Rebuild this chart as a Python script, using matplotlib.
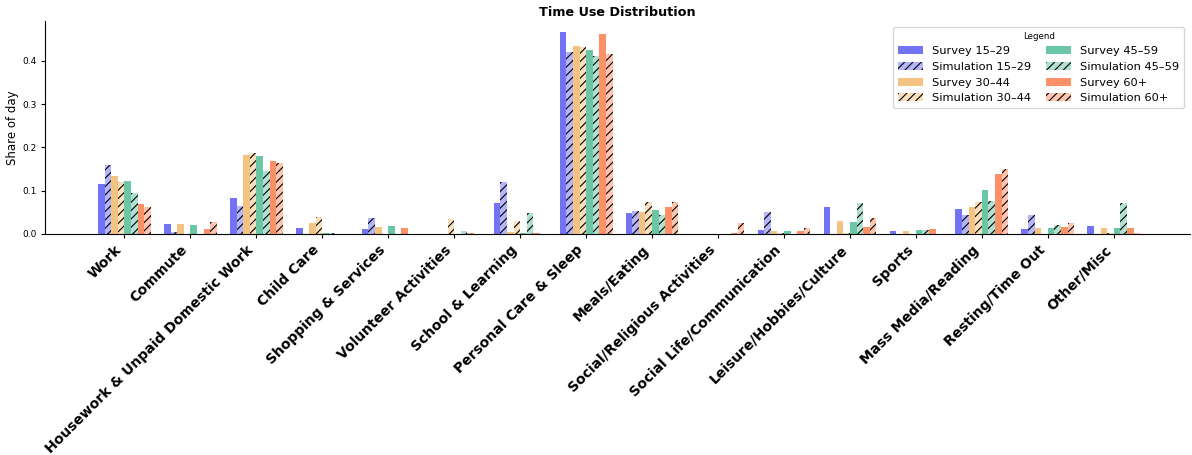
import numpy as np
import matplotlib
matplotlib.use("Agg")
import matplotlib.pyplot as plt

categories = [
    "Work", "Commute", "Housework & Unpaid Domestic Work", "Child Care",
    "Shopping & Services", "Volunteer Activities", "School & Learning",
    "Personal Care & Sleep", "Meals/Eating", "Social/Religious Activities",
    "Social Life/Communication", "Leisure/Hobbies/Culture", "Sports",
    "Mass Media/Reading", "Resting/Time Out", "Other/Misc",
]

survey_15_29 = [0.115, 0.023, 0.082, 0.013, 0.011, 0.0, 0.071, 0.468, 0.049, 0.0,
                0.008, 0.062, 0.007, 0.058, 0.012, 0.019]
sim_15_29 = [0.159, 0.005, 0.065, 0.0, 0.036, 0.0, 0.120, 0.420, 0.052, 0.0,
             0.051, 0.0, 0.0, 0.044, 0.044, 0.0]
survey_30_44 = [0.134, 0.023, 0.182, 0.024, 0.015, 0.0, 0.004, 0.434, 0.051, 0.0,
                0.007, 0.030, 0.007, 0.061, 0.013, 0.014]
sim_30_44 = [0.120, 0.0, 0.188, 0.039, 0.0, 0.034, 0.030, 0.432, 0.074, 0.0,
             0.001, 0.001, 0.0, 0.074, 0.0, 0.003]
survey_45_59 = [0.122, 0.021, 0.179, 0.003, 0.018, 0.0, 0.001, 0.425, 0.055, 0.0,
                0.007, 0.027, 0.009, 0.101, 0.013, 0.013]
sim_45_59 = [0.094, 0.0, 0.146, 0.002, 0.0, 0.007, 0.048, 0.411, 0.044, 0.0,
             0.0, 0.071, 0.009, 0.075, 0.020, 0.071]
survey_60 = [0.068, 0.012, 0.169, 0.0, 0.013, 0.001, 0.002, 0.462, 0.062, 0.001,
             0.007, 0.017, 0.012, 0.139, 0.015, 0.013]
sim_60 = [0.062, 0.027, 0.164, 0.0, 0.0, 0.0, 0.0, 0.416, 0.074, 0.025,
          0.014, 0.037, 0.0, 0.151, 0.025, 0.003]

age_groups = ["15\u201329", "30\u201344", "45\u201359", "60+"]
colors = ["#6b6bf5", "#f5c07a", "#62c3a0", "#fc8a5e"]
survey = [survey_15_29, survey_30_44, survey_45_59, survey_60]
sim = [sim_15_29, sim_30_44, sim_45_59, sim_60]

plt.rcParams["hatch.color"] = "black"
plt.rcParams["hatch.linewidth"] = 0.8

fig, ax = plt.subplots(figsize=(11.92, 4.55), dpi=100)
x = np.arange(len(categories))
w = 0.1

for i, age in enumerate(age_groups):
    off_s = (2 * i - 3.5) * w
    off_m = (2 * i + 1 - 3.5) * w
    ax.bar(x + off_s, survey[i], w, color=colors[i], alpha=0.95,
           label=f"Survey {age}")
    ax.bar(x + off_m, sim[i], w, facecolor=matplotlib.colors.to_rgba(colors[i], 0.5),
           edgecolor="black", linewidth=0, hatch="////", label=f"Simulation {age}")

ax.set_xticks(x)
ax.set_xticklabels(categories, rotation=45, ha="right", fontsize=10, fontweight="bold")
ax.set_xlim(-1.2, len(categories) - 1 + 1.15)
ax.set_ylabel("Share of day", fontsize=8.5, labelpad=2)
ax.tick_params(axis="y", labelsize=6.5, length=3)
ax.tick_params(axis="x", length=3)
ax.set_title("Time Use Distribution", fontsize=9.2, fontweight="bold", pad=4)
ax.spines["top"].set_visible(False)
ax.spines["right"].set_visible(False)
ax.legend(title="Legend", ncol=2, loc="upper right", fontsize=8.2, title_fontsize=6.2,
          columnspacing=1.3, labelspacing=0.5, handlelength=2.2)

fig.subplots_adjust(left=0.038, right=0.998, top=0.953, bottom=0.486)
fig.savefig("out.png")
